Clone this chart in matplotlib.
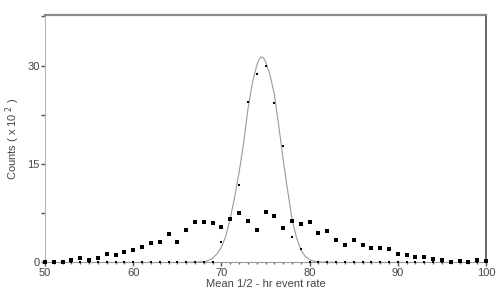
import matplotlib.pyplot as plt
from matplotlib.ticker import MultipleLocator

# broad distribution (squares), one value per integer rate 50..100
rate = list(range(50, 101))
broad = [0.1, 0.1, 0.0, 0.3, 0.6, 0.3, 0.7, 1.2, 1.1, 1.5,
         1.8, 2.4, 3.0, 3.1, 4.3, 3.1, 4.9, 6.2, 6.1, 5.95,
         5.4, 6.6, 7.5, 6.3, 4.9, 7.6, 7.1, 5.3, 6.35, 5.9,
         6.2, 4.5, 4.7, 3.4, 2.7, 3.4, 2.7, 2.2, 2.2, 2.0,
         1.3, 1.1, 0.85, 0.8, 0.5, 0.3, 0.1, 0.2, 0.1, 0.3,
         0.15]

# narrow distribution (small dots)
narrow = [0.0] * 20 + [3.1, 6.6, 11.8, 24.4, 28.7, 30.0, 24.3, 17.7, 3.8, 2.0] + [0.0] * 21

# fitted curve
fit_x = [66, 67, 68, 68.5, 69, 69.5, 70, 70.5, 71, 71.5, 72, 72.5, 73, 73.5,
         74, 74.25, 74.5, 74.75, 75, 75.5, 76, 76.5, 77, 77.5, 78, 78.5,
         79, 79.5, 80, 80.5, 81, 82, 83]
fit_y = [0.0, 0.02, 0.1, 0.25, 0.6, 1.3, 2.3, 4.0, 6.7, 9.9, 13.7, 18.0, 23.3, 27.3,
         30.0, 30.9, 31.3, 31.2, 30.6, 28.6, 25.6, 20.8, 15.6, 11.0, 6.6, 3.8,
         1.9, 0.9, 0.4, 0.15, 0.05, 0.0, 0.0]

plt.rcParams['font.family'] = ['Liberation Sans', 'DejaVu Sans']

fig = plt.figure(figsize=(4.98, 3.0), dpi=100)
ax = fig.add_axes([0.0904, 0.1257, 0.8856, 0.8243])

ax.plot(fit_x, fit_y, color='#9a9a9a', lw=0.8, zorder=2)
ax.plot(rate, broad, 's', color='black', ms=3.2, mew=0, clip_on=False, zorder=3)
ax.plot(rate, narrow, 's', color='black', ms=1.6, mew=0, clip_on=False, zorder=4)

ax.set_xlim(50, 100)
ax.set_ylim(0, 37.7)
ax.xaxis.set_major_locator(MultipleLocator(10))
ax.xaxis.set_minor_locator(MultipleLocator(1))
ax.yaxis.set_major_locator(MultipleLocator(15))
ax.yaxis.set_minor_locator(MultipleLocator(7.5))

ax.tick_params(axis='both', which='major', direction='out', length=3, width=1,
               colors='#555555', labelcolor='#444444', labelsize=8)
ax.tick_params(axis='x', which='minor', direction='out', length=1.5, width=1, colors='#666666')
ax.tick_params(axis='y', which='minor', direction='out', length=3, width=1, colors='#555555')
ax.tick_params(axis='y', pad=1)
ax.tick_params(axis='x', pad=1)

ax.spines['left'].set_color('#b5b5b5')
ax.spines['bottom'].set_color('#9a9a9a')
ax.spines['top'].set_color('#8a8a8a')
ax.spines['top'].set_linewidth(1.6)
ax.spines['right'].set_color('#666666')
ax.spines['right'].set_linewidth(1.4)

ax.set_xlabel('Mean 1/2 - hr event rate', fontsize=8, color='#444444', labelpad=1)
ax.set_ylabel('Counts ( x 10$^{\\ 2}$ )', fontsize=8, color='#444444', labelpad=4)

plt.savefig('out.png', dpi=100)
